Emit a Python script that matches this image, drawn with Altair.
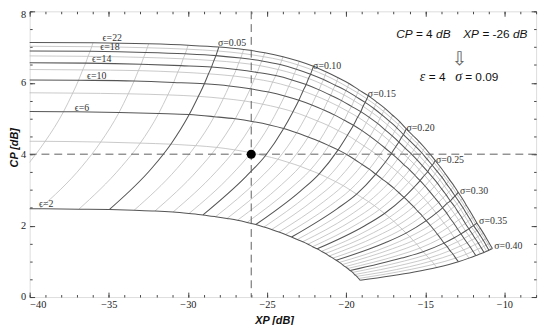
import altair as alt
import pandas as pd

# ---------------- data ----------------
sigma_vals = [0.02, 0.03, 0.04, 0.05, 0.06, 0.07, 0.08, 0.09, 0.10,
              0.11, 0.12, 0.13, 0.14, 0.15, 0.16, 0.17, 0.18, 0.19, 0.20,
              0.21, 0.22, 0.23, 0.24, 0.25, 0.26, 0.27, 0.28, 0.29, 0.30,
              0.31, 0.32, 0.33, 0.34, 0.35, 0.36, 0.37, 0.38, 0.39, 0.40]

eps_nodes = [2, 3, 4, 6, 8, 10, 12, 14, 16, 18, 20, 22]      # nodes of the sigma curves
eps_drawn = [2, 4, 6, 8, 10, 12, 14, 16, 18, 20, 22]        # drawn epsilon curves
eps_bold = [2, 6, 10, 14, 18, 22]

# CP of each epsilon curve on the flat left part
cp_plateau = {2: 2.47, 3: 3.68, 4: 4.37, 6: 5.21, 8: 5.73, 10: 6.09,
              12: 6.38, 14: 6.57, 16: 6.76, 18: 6.90, 20: 7.03, 22: 7.14}

xp_e2 = [-42.90, -39.38, -36.89, -34.97, -33.40, -32.08, -30.94, -29.93, -29.05, -28.25, -27.53, -26.87, -26.26,
         -25.71, -25.19, -24.71, -24.25, -23.84, -23.45, -23.09, -22.74, -22.41, -22.12, -21.83, -21.56, -21.30,
         -21.07, -20.84, -20.63, -20.43, -20.24, -20.07, -19.90, -19.75, -19.59, -19.47, -19.33, -19.22, -19.11]
cp_e2 = [2.47, 2.47, 2.46, 2.45, 2.43, 2.41, 2.38, 2.34, 2.30, 2.25, 2.20, 2.15, 2.09, 2.03, 1.96, 1.89, 1.82,
         1.75, 1.68, 1.61, 1.55, 1.48, 1.41, 1.35, 1.28, 1.22, 1.15, 1.09, 1.03, 0.97, 0.91, 0.85, 0.80, 0.74,
         0.69, 0.63, 0.58, 0.52, 0.47]

xp_e3 = [-40.20, -36.69, -34.20, -32.26, -30.69, -29.37, -28.22, -27.21, -26.32, -25.51, -24.78, -24.10, -23.49,
         -22.91, -22.38, -21.89, -21.42, -20.98, -20.58, -20.20, -19.83, -19.48, -19.17, -18.85, -18.56, -18.28,
         -18.03, -17.77, -17.54, -17.30, -17.09, -16.89, -16.69, -16.50, -16.32, -16.16, -15.99, -15.85, -15.70]
cp_e3 = [3.67, 3.66, 3.65, 3.62, 3.60, 3.56, 3.51, 3.44, 3.38, 3.30, 3.22, 3.14, 3.05, 2.96, 2.87, 2.77, 2.67,
         2.57, 2.47, 2.37, 2.27, 2.18, 2.08, 1.99, 1.89, 1.80, 1.71, 1.61, 1.52, 1.43, 1.35, 1.26, 1.17, 1.09,
         1.01, 0.93, 0.85, 0.78, 0.70]

xp_e4 = [-39.02, -35.51, -33.01, -31.08, -29.51, -28.18, -27.03, -26.02, -25.12, -24.31, -23.58, -22.90, -22.28,
         -21.70, -21.17, -20.66, -20.19, -19.75, -19.34, -18.95, -18.58, -18.22, -17.90, -17.58, -17.28, -16.99,
         -16.73, -16.46, -16.22, -15.98, -15.76, -15.54, -15.34, -15.14, -14.95, -14.78, -14.60, -14.44, -14.28]
cp_e4 = [4.36, 4.34, 4.31, 4.28, 4.24, 4.19, 4.12, 4.04, 3.95, 3.86, 3.76, 3.66, 3.55, 3.45, 3.34, 3.23, 3.12,
         3.00, 2.88, 2.77, 2.67, 2.56, 2.45, 2.34, 2.23, 2.12, 2.01, 1.90, 1.79, 1.69, 1.58, 1.48, 1.37, 1.27,
         1.18, 1.09, 1.01, 0.92, 0.83]

xp_e6 = [-37.86, -34.35, -31.85, -29.92, -28.34, -27.01, -25.86, -24.84, -23.95, -23.13, -22.40, -21.71, -21.09,
         -20.51, -19.97, -19.46, -18.99, -18.54, -18.13, -17.74, -17.35, -16.99, -16.67, -16.34, -16.03, -15.74,
         -15.47, -15.19, -14.94, -14.69, -14.47, -14.24, -14.03, -13.82, -13.62, -13.44, -13.25, -13.08, -12.91]
cp_e6 = [5.19, 5.17, 5.14, 5.11, 5.05, 4.99, 4.91, 4.82, 4.72, 4.60, 4.48, 4.36, 4.24, 4.12, 3.99, 3.85, 3.71,
         3.58, 3.44, 3.31, 3.18, 3.05, 2.92, 2.79, 2.66, 2.53, 2.40, 2.27, 2.14, 2.01, 1.89, 1.76, 1.64, 1.51,
         1.41, 1.30, 1.20, 1.09, 0.99]

xp_e8 = [-37.28, -33.77, -31.27, -29.34, -27.76, -26.43, -25.28, -24.26, -23.36, -22.54, -21.81, -21.12, -20.50,
         -19.92, -19.38, -18.87, -18.39, -17.94, -17.52, -17.13, -16.75, -16.38, -16.05, -15.72, -15.41, -15.12,
         -14.84, -14.56, -14.31, -14.06, -13.83, -13.59, -13.38, -13.17, -12.96, -12.78, -12.58, -12.41, -12.24]
cp_e8 = [5.71, 5.69, 5.66, 5.62, 5.56, 5.49, 5.40, 5.30, 5.19, 5.06, 4.93, 4.80, 4.66, 4.53, 4.38, 4.23, 4.09,
         3.94, 3.78, 3.64, 3.50, 3.35, 3.21, 3.07, 2.92, 2.78, 2.64, 2.49, 2.35, 2.21, 2.07, 1.94, 1.80, 1.66,
         1.55, 1.43, 1.32, 1.20, 1.09]

xp_e10 = [-36.91, -33.40, -30.90, -28.96, -27.39, -26.06, -24.91, -23.89, -22.99, -22.17, -21.43, -20.75, -20.12,
          -19.54, -19.00, -18.49, -18.01, -17.56, -17.14, -16.74, -16.36, -15.99, -15.66, -15.33, -15.02, -14.72,
          -14.44, -14.16, -13.91, -13.65, -13.42, -13.19, -12.97, -12.75, -12.55, -12.36, -12.16, -11.99, -11.81]
cp_e10 = [6.07, 6.05, 6.01, 5.97, 5.91, 5.83, 5.74, 5.63, 5.51, 5.38, 5.24, 5.10, 4.95, 4.81, 4.66, 4.50, 4.34,
          4.18, 4.02, 3.87, 3.71, 3.56, 3.41, 3.26, 3.11, 2.95, 2.80, 2.65, 2.50, 2.35, 2.20, 2.06, 1.91, 1.77,
          1.64, 1.52, 1.40, 1.28, 1.16]

xp_e12 = [-36.65, -33.13, -30.64, -28.70, -27.13, -25.80, -24.65, -23.63, -22.73, -21.91, -21.17, -20.48, -19.86,
          -19.27, -18.73, -18.22, -17.74, -17.29, -16.87, -16.47, -16.09, -15.72, -15.39, -15.05, -14.74, -14.44,
          -14.16, -13.88, -13.63, -13.37, -13.13, -12.90, -12.68, -12.46, -12.25, -12.06, -11.86, -11.69, -11.51]
cp_e12 = [6.36, 6.34, 6.30, 6.25, 6.19, 6.11, 6.02, 5.90, 5.77, 5.63, 5.49, 5.34, 5.19, 5.04, 4.88, 4.71, 4.55,
          4.38, 4.21, 4.05, 3.89, 3.73, 3.57, 3.41, 3.25, 3.09, 2.93, 2.78, 2.62, 2.46, 2.31, 2.16, 2.00, 1.85,
          1.72, 1.60, 1.47, 1.34, 1.21]

xp_e14 = [-36.46, -32.95, -30.45, -28.51, -26.94, -25.61, -24.45, -23.43, -22.53, -21.71, -20.98, -20.29, -19.66,
          -19.08, -18.54, -18.02, -17.54, -17.09, -16.67, -16.28, -15.89, -15.52, -15.19, -14.85, -14.54, -14.24,
          -13.96, -13.68, -13.42, -13.16, -12.93, -12.69, -12.47, -12.25, -12.04, -11.85, -11.65, -11.47, -11.29]
cp_e14 = [6.55, 6.52, 6.48, 6.44, 6.37, 6.29, 6.20, 6.08, 5.95, 5.80, 5.65, 5.50, 5.34, 5.19, 5.03, 4.86, 4.68,
          4.51, 4.34, 4.17, 4.01, 3.84, 3.68, 3.51, 3.35, 3.19, 3.02, 2.86, 2.69, 2.54, 2.38, 2.22, 2.06, 1.91,
          1.77, 1.64, 1.51, 1.38, 1.25]

xp_e16 = [-36.31, -32.80, -30.30, -28.36, -26.79, -25.46, -24.30, -23.28, -22.38, -21.56, -20.83, -20.14, -19.51,
          -18.93, -18.38, -17.87, -17.39, -16.94, -16.52, -16.12, -15.73, -15.37, -15.03, -14.70, -14.38, -14.08,
          -13.80, -13.52, -13.26, -13.00, -12.76, -12.53, -12.30, -12.09, -11.87, -11.68, -11.48, -11.30, -11.12]
cp_e16 = [6.74, 6.71, 6.67, 6.62, 6.56, 6.48, 6.37, 6.25, 6.12, 5.97, 5.81, 5.66, 5.50, 5.34, 5.17, 5.00, 4.82,
          4.64, 4.46, 4.29, 4.12, 3.95, 3.79, 3.62, 3.45, 3.28, 3.11, 2.94, 2.77, 2.61, 2.45, 2.28, 2.12, 1.96,
          1.83, 1.69, 1.55, 1.42, 1.28]

xp_e18 = [-36.18, -32.67, -30.17, -28.23, -26.66, -25.33, -24.17, -23.15, -22.25, -21.43, -20.69, -20.01, -19.38,
          -18.80, -18.25, -17.74, -17.26, -16.80, -16.38, -15.99, -15.60, -15.23, -14.89, -14.56, -14.25, -13.94,
          -13.66, -13.38, -13.12, -12.86, -12.62, -12.39, -12.16, -11.95, -11.73, -11.54, -11.34, -11.16, -10.98]
cp_e18 = [6.88, 6.85, 6.81, 6.76, 6.69, 6.61, 6.51, 6.38, 6.24, 6.09, 5.93, 5.78, 5.61, 5.45, 5.28, 5.10, 4.92,
          4.74, 4.55, 4.38, 4.21, 4.04, 3.86, 3.69, 3.52, 3.35, 3.17, 3.00, 2.83, 2.66, 2.50, 2.33, 2.17, 2.00,
          1.86, 1.73, 1.59, 1.45, 1.31]

xp_e20 = [-36.08, -32.57, -30.07, -28.13, -26.56, -25.23, -24.07, -23.05, -22.15, -21.33, -20.59, -19.91, -19.28,
          -18.69, -18.15, -17.64, -17.15, -16.70, -16.28, -15.88, -15.49, -15.13, -14.79, -14.45, -14.14, -13.84,
          -13.55, -13.27, -13.01, -12.75, -12.51, -12.28, -12.05, -11.83, -11.62, -11.43, -11.22, -11.04, -10.86]
cp_e20 = [7.01, 6.98, 6.94, 6.89, 6.82, 6.73, 6.63, 6.50, 6.36, 6.21, 6.05, 5.88, 5.72, 5.55, 5.38, 5.20, 5.01,
          4.83, 4.64, 4.46, 4.29, 4.11, 3.94, 3.76, 3.59, 3.41, 3.23, 3.06, 2.88, 2.71, 2.54, 2.38, 2.21, 2.04,
          1.90, 1.76, 1.62, 1.48, 1.34]

xp_e22 = [-36.00, -32.48, -29.99, -28.05, -26.48, -25.14, -23.99, -22.97, -22.07, -21.25, -20.51, -19.82, -19.20,
          -18.61, -18.07, -17.55, -17.07, -16.62, -16.20, -15.80, -15.41, -15.04, -14.70, -14.37, -14.05, -13.75,
          -13.46, -13.18, -12.92, -12.66, -12.42, -12.18, -11.96, -11.74, -11.53, -11.33, -11.13, -10.95, -10.76]
cp_e22 = [7.12, 7.09, 7.05, 7.00, 6.93, 6.84, 6.73, 6.60, 6.46, 6.30, 6.14, 5.98, 5.80, 5.64, 5.46, 5.28, 5.09,
          4.91, 4.71, 4.53, 4.36, 4.18, 4.00, 3.82, 3.64, 3.46, 3.28, 3.11, 2.93, 2.76, 2.58, 2.41, 2.24, 2.07,
          1.93, 1.79, 1.64, 1.50, 1.36]

xp_table = {2: xp_e2, 3: xp_e3, 4: xp_e4, 6: xp_e6, 8: xp_e8, 10: xp_e10, 12: xp_e12,
            14: xp_e14, 16: xp_e16, 18: xp_e18, 20: xp_e20, 22: xp_e22}
cp_table = {2: cp_e2, 3: cp_e3, 4: cp_e4, 6: cp_e6, 8: cp_e8, 10: cp_e10, 12: cp_e12,
            14: cp_e14, 16: cp_e16, 18: cp_e18, 20: cp_e20, 22: cp_e22}
plateau_start_xp = -45.0

# curve labels (text, XP, CP)
eps_label_text = ["\u03f5=22", "\u03f5=18", "\u03f5=14", "\u03f5=10", "\u03f5=6", "\u03f5=2"]
eps_label_xp = [-34.78, -34.93, -35.45, -35.76, -36.69, -38.96]
eps_label_cp = [7.26, 6.99, 6.67, 6.18, 5.30, 2.61]

sig_label_text = ["\u03c3=0.05", "\u03c3=0.10", "\u03c3=0.15", "\u03c3=0.20",
                  "\u03c3=0.25", "\u03c3=0.30", "\u03c3=0.35", "\u03c3=0.40"]
sig_label_xp = [-28.10, -22.09, -18.63, -16.19, -14.33, -12.81, -11.60, -10.64]
sig_label_cp = [7.10, 6.48, 5.68, 4.73, 3.84, 2.96, 2.14, 1.43]

marker_xp = [-26.0]
marker_cp = [4.0]

x_major = [-40, -35, -30, -25, -20, -15, -10]
x_minor = list(range(-40, -7))
y_major = [0, 2, 4, 6, 8]
y_minor = [i / 2 for i in range(0, 17)]

# ---------------- tables for the library ----------------
eps_rows = []
for e in eps_drawn:
    eps_rows.append({"eps": e, "ord": 0, "xp": plateau_start_xp, "cp": cp_plateau[e],
                     "bold": e in eps_bold})
    for i in range(len(sigma_vals)):
        eps_rows.append({"eps": e, "ord": i + 1, "xp": xp_table[e][i], "cp": cp_table[e][i],
                         "bold": e in eps_bold})
eps_df = pd.DataFrame(eps_rows)

sig_rows = []
for j, s in enumerate(sigma_vals):
    b = int(round(s * 100)) % 5 == 0
    for k, e in enumerate(eps_nodes):
        sig_rows.append({"sigma": s, "ord": k, "xp": xp_table[e][j], "cp": cp_table[e][j], "bold": b})
sig_df = pd.DataFrame(sig_rows)

eps_lab_df = pd.DataFrame({"t": eps_label_text, "xp": eps_label_xp, "cp": eps_label_cp})
sig_lab_df = pd.DataFrame({"t": sig_label_text, "xp": sig_label_xp, "cp": sig_label_cp})
dot_df = pd.DataFrame({"xp": marker_xp, "cp": marker_cp})

W, H = 514, 290
xs = alt.Scale(domain=[-40, -8], nice=False, zero=False)
ys = alt.Scale(domain=[0, 8], nice=False, zero=False)
LIGHT = "#bcbcbc"
DARK = "#555555"


def lines(df, key, bold, color, width):
    return alt.Chart(df[df["bold"] == bold]).mark_line(
        color=color, strokeWidth=width, interpolate="monotone", clip=True
    ).encode(
        x=alt.X("xp:Q", scale=xs, axis=None),
        y=alt.Y("cp:Q", scale=ys, axis=None),
        detail=alt.Detail(f"{key}:N"),
        order=alt.Order("ord:Q"),
    )


light_eps = lines(eps_df, "eps", False, LIGHT, 0.8)
light_sig = lines(sig_df, "sigma", False, LIGHT, 0.8)
bold_eps = lines(eps_df, "eps", True, DARK, 1.05)
bold_sig = lines(sig_df, "sigma", True, DARK, 1.05)

vrule = alt.Chart(dot_df).mark_rule(color="#5e5e5e", strokeWidth=1, strokeDash=[8, 5]).encode(
    x=alt.X("xp:Q", scale=xs, axis=None))
hrule = alt.Chart(dot_df).mark_rule(color="#5e5e5e", strokeWidth=1, strokeDash=[8, 5]).encode(
    y=alt.Y("cp:Q", scale=ys, axis=None))
dot = alt.Chart(dot_df).mark_circle(size=85, color="black", opacity=1).encode(
    x=alt.X("xp:Q", scale=xs, axis=None), y=alt.Y("cp:Q", scale=ys, axis=None))

eps_labels = alt.Chart(eps_lab_df).mark_text(
    font="Liberation Serif", fontSize=10, color="#333333", baseline="middle"
).encode(x=alt.X("xp:Q", scale=xs, axis=None), y=alt.Y("cp:Q", scale=ys, axis=None), text="t:N")

sig_labels = alt.Chart(sig_lab_df).mark_text(
    font="Liberation Serif", fontSize=10, color="#333333", align="left", baseline="middle"
).encode(x=alt.X("xp:Q", scale=xs, axis=None), y=alt.Y("cp:Q", scale=ys, axis=None), text="t:N")


def note(txt, x, y, size=12, font="Liberation Sans", style="normal", color="#111111", align="left"):
    return alt.Chart(dot_df).mark_text(
        text=txt, font=font, fontSize=size, fontStyle=style, color=color, align=align, baseline="middle"
    ).encode(x=alt.value(x), y=alt.value(y))


notes = [
    note("CP", 372, 23, style="italic"),
    note("= 4", 392, 23),
    note("dB", 412.5, 23, style="italic"),
    note("XP", 440, 23, style="italic"),
    note("= -26", 459.5, 23),
    note("dB", 490.5, 23, style="italic"),
    note("\u21e9", 436, 48, size=19, font="DejaVu Sans", color="#666666", align="center"),
    note("\u03b5", 396, 67, size=14, font="Liberation Serif", style="italic"),
    note("= 4", 405, 67),
    note("\u03c3", 432, 67, size=14, font="Liberation Serif", style="italic"),
    note("= 0.09", 442, 67),
]

base_ax = dict(grid=False, domain=False)


def axis_layer(xaxis, yaxis):
    return alt.Chart(dot_df).mark_point(opacity=0).encode(
        x=alt.X("xp:Q", scale=xs, axis=xaxis),
        y=alt.Y("cp:Q", scale=ys, axis=yaxis),
    )


label_axes = axis_layer(
    alt.Axis(orient="bottom", values=x_major, ticks=False, labelFont="Liberation Serif", labelFontSize=10.5,
             labelColor="#222222", labelPadding=3, title="XP [dB]", titleFont="Liberation Sans",
             titleFontStyle="italic", titleFontWeight="bold", titleFontSize=11, titleColor="#111111",
             titlePadding=4, titleX=248, **base_ax),
    alt.Axis(orient="left", values=y_major, ticks=False, labelFont="Liberation Serif", labelFontSize=10.5,
             labelColor="#222222", labelPadding=4, title="CP [dB]", titleFont="Liberation Sans",
             titleFontStyle="italic", titleFontWeight="bold", titleFontSize=11, titleColor="#111111",
             titlePadding=1, titleY=138,
             labelOffset={"condition": {"test": "datum.value == 8", "value": 3}, "value": 0},
             **base_ax),
)


def tick_axes(xo, yo, xv, yv, size):
    return axis_layer(
        alt.Axis(orient=xo, offset=-H, values=xv, labels=False, ticks=True, tickSize=size,
                 tickColor="#444444", tickWidth=1, title="", **base_ax),
        alt.Axis(orient=yo, offset=-W, values=yv, labels=False, ticks=True, tickSize=size,
                 tickColor="#444444", tickWidth=1, title="", **base_ax),
    )


ticks = [
    tick_axes("top", "right", x_major, y_major, 5),
    tick_axes("top", "right", x_minor, y_minor, 2.5),
    tick_axes("bottom", "left", x_major, y_major, 5),
    tick_axes("bottom", "left", x_minor, y_minor, 2.5),
]

chart = alt.layer(
    light_eps, light_sig, bold_eps, bold_sig, vrule, hrule, dot, eps_labels, sig_labels,
    label_axes, *ticks, *notes
).resolve_axis(x="independent", y="independent").properties(
    width=W, height=H,
    autosize=alt.AutoSizeParams(type="none"),
    padding={"left": 22, "top": 1, "right": 6, "bottom": 26},
).configure_view(stroke="#444444", strokeWidth=1).configure(background="white")

chart.save("out.html", embed_options={"renderer": "svg", "actions": False})
